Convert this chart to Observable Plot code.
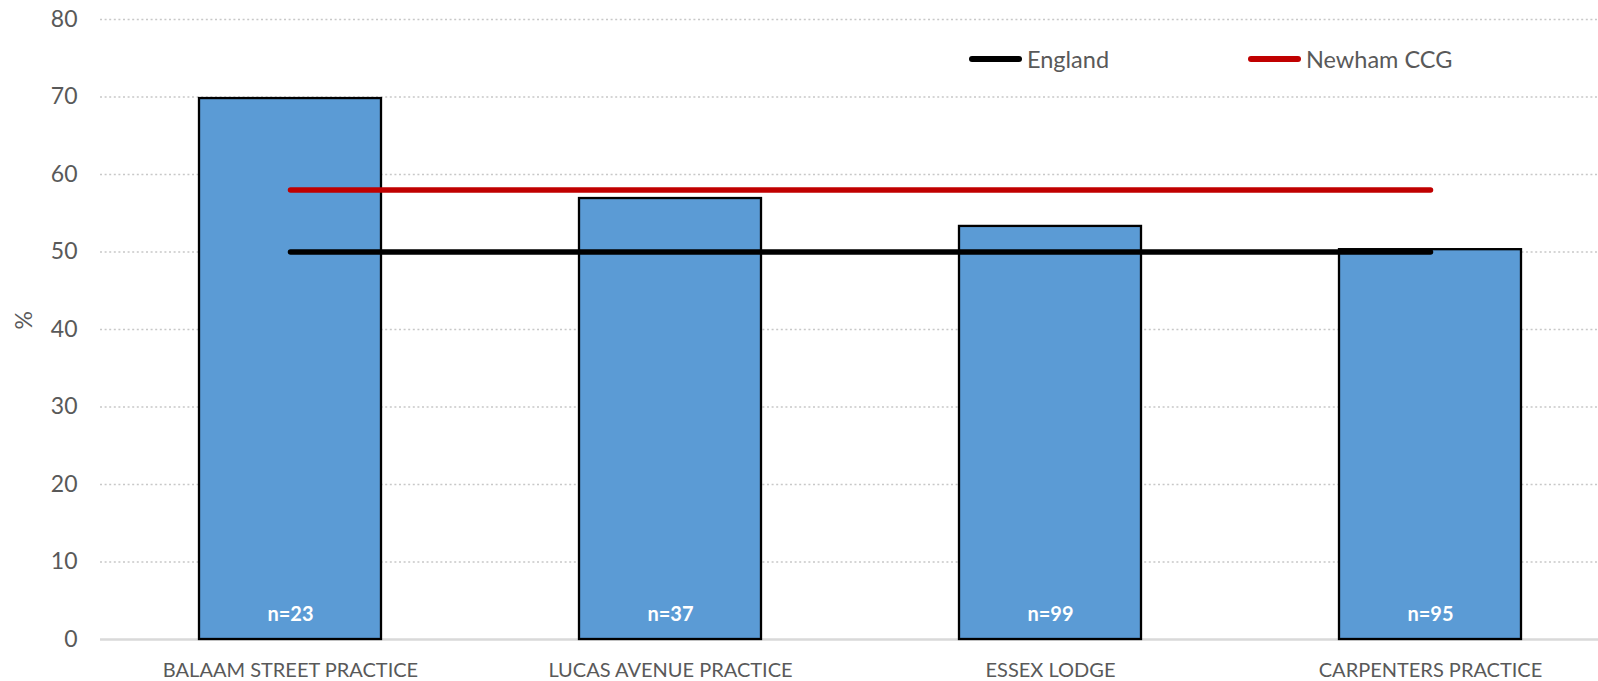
<!DOCTYPE html>
<html>
<head>
<meta charset="utf-8">
<script src="https://cdn.jsdelivr.net/npm/d3@7"></script>
<script src="https://cdn.jsdelivr.net/npm/@observablehq/plot@0.6"></script>
<style>
  html, body { margin: 0; padding: 0; background: #fff; }
  #wrap { position: relative; width: 1598px; height: 681px; font-family: Lato, "Open Sans", sans-serif; }
  .item { position: absolute; top: 45px; display: flex; align-items: center; font-size: 23.5px; color: #595959; }
  .swatch { width: 53px; height: 5.5px; border-radius: 3px; margin-right: 5px; }
</style>
</head>
<body>
<div id="wrap"></div>
<script>
const practices = ["BALAAM STREET PRACTICE", "LUCAS AVENUE PRACTICE", "ESSEX LODGE", "CARPENTERS PRACTICE"];
const percentValues = [69.8, 56.9, 53.3, 50.3];
const sampleLabels = ["n=23", "n=37", "n=99", "n=95"];
const englandValues = [50, 50, 50, 50];
const newhamValues = [58, 58, 58, 58];
const yTicks = [0, 10, 20, 30, 40, 50, 60, 70, 80];
const seriesNames = ["England", "Newham CCG"];
const seriesColors = ["#000000", "#c00000"];

const bars = practices.map((p, i) => ({practice: p, value: percentValues[i], n: sampleLabels[i]}));
const england = practices.map((p, i) => ({practice: p, value: englandValues[i]}));
const newham = practices.map((p, i) => ({practice: p, value: newhamValues[i]}));

const chart = Plot.plot({
  width: 1598,
  height: 681,
  marginLeft: 100,
  marginRight: 0,
  marginTop: 19,
  marginBottom: 42,
  style: {fontFamily: "Lato, 'Open Sans', sans-serif", color: "#595959", background: "#fff", overflow: "visible"},
  x: {domain: practices, range: [100, 1621], paddingInner: 0.52, paddingOuter: 0.26, label: null},
  y: {domain: [0, 80], label: null},
  marks: [
    Plot.ruleY(yTicks.filter(d => d > 0), {stroke: "#c8c8c8", strokeWidth: 1.5, strokeDasharray: "2,2.6"}),
    Plot.ruleY([0], {stroke: "#d9d9d9", strokeWidth: 2.5}),
    Plot.barY(bars, {x: "practice", y: "value", fill: "#5b9bd5", stroke: "#000", strokeWidth: 2.3}),
    Plot.text(bars, {x: "practice", y: 0, text: "n", dy: -25, fill: "#fff", fontWeight: "bold", fontSize: 20}),
    Plot.lineY(england, {x: "practice", y: "value", stroke: seriesColors[0], strokeWidth: 5.5, strokeLinecap: "round"}),
    Plot.lineY(newham, {x: "practice", y: "value", stroke: seriesColors[1], strokeWidth: 5.5, strokeLinecap: "round"}),
    Plot.axisY({ticks: yTicks, tickSize: 0, tickPadding: 23, fontSize: 23, label: null}),
    Plot.axisX({tickSize: 0, tickPadding: 23, fontSize: 20, label: null}),
    Plot.text(["%"], {frameAnchor: "left", dx: -76, rotate: -90, fontSize: 23, fill: "#595959"})
  ]
});
const wrap = document.getElementById("wrap");
wrap.prepend(chart);

const legendLefts = [969, 1248];
seriesNames.forEach((name, i) => {
  const item = document.createElement("div");
  item.className = "item";
  item.style.left = legendLefts[i] + "px";
  const sw = document.createElement("div");
  sw.className = "swatch";
  sw.style.background = seriesColors[i];
  const label = document.createElement("span");
  label.textContent = name;
  item.append(sw, label);
  wrap.append(item);
});
</script>
</body>
</html>
